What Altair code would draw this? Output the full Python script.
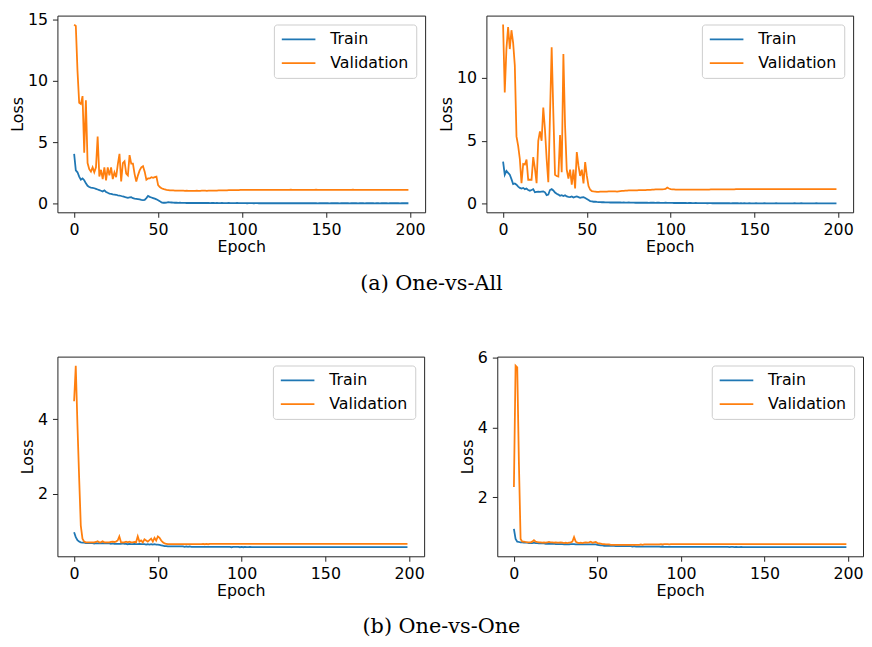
import altair as alt
import pandas as pd

epochs = list(range(200))
series_names = ["Train", "Validation"]
series_colors = ["#1f77b4", "#ff7f0e"]
x_ticks = [0, 50, 100, 150, 200]
captions = ["(a) One-vs-All", "(b) One-vs-One"]

# ---------------- One-vs-All, left panel ----------------
ova1_train = [
    4.05, 2.7, 2.55, 2.2, 1.95, 2.05, 1.9, 1.65, 1.45, 1.35,
    1.3, 1.28, 1.25, 1.2, 1.15, 1.1, 1.05, 0.98, 1.08, 0.95,
    0.88, 0.82, 0.8, 0.76, 0.74, 0.72, 0.68, 0.66, 0.62, 0.58,
    0.55, 0.5, 0.47, 0.5, 0.52, 0.44, 0.4, 0.38, 0.36, 0.34,
    0.3, 0.28, 0.3, 0.45, 0.62, 0.55, 0.5, 0.45, 0.4, 0.35,
    0.28, 0.2, 0.1, 0.07, 0.07, 0.08, 0.12, 0.1, 0.09, 0.08,
] + [
    0.07, 0.07, 0.06, 0.07, 0.06, 0.06, 0.06, 0.05, 0.06, 0.05, 0.05, 0.06, 0.05, 0.05, 0.05, 0.05, 0.06, 0.05, 0.05, 0.05,
    0.05, 0.04, 0.05, 0.05, 0.04, 0.05, 0.04, 0.04, 0.05, 0.04, 0.04, 0.04, 0.05, 0.04, 0.04, 0.04, 0.04, 0.05, 0.04, 0.04,
    0.04, 0.04, 0.04, 0.03, 0.04, 0.04, 0.04, 0.03, 0.04, 0.04, 0.03, 0.04, 0.03, 0.04, 0.03, 0.03, 0.04, 0.03, 0.03, 0.04,
    0.03, 0.03, 0.03, 0.04, 0.03, 0.03, 0.03, 0.03, 0.04, 0.03, 0.03, 0.03, 0.03, 0.03, 0.03, 0.04, 0.03, 0.03, 0.03, 0.03,
    0.03, 0.03, 0.03, 0.03, 0.03, 0.02, 0.03, 0.03, 0.03, 0.03, 0.03, 0.03, 0.02, 0.03, 0.03, 0.03, 0.03, 0.03, 0.02, 0.03,
    0.03, 0.03, 0.03, 0.03, 0.02, 0.03, 0.03, 0.03, 0.03, 0.02, 0.03, 0.03, 0.03, 0.02, 0.03, 0.03, 0.03, 0.03, 0.03, 0.02,
    0.03, 0.03, 0.02, 0.03, 0.03, 0.03, 0.03, 0.02, 0.03, 0.03, 0.03, 0.04, 0.03, 0.03, 0.02, 0.03, 0.03, 0.03, 0.03, 0.03,
]
ova1_val = [
    14.57, 14.45, 10.8, 8.2, 8.1, 8.75, 4.15, 8.4, 3.3, 2.8,
    2.6, 2.95, 2.55, 2.95, 5.45, 2.2, 2.75, 2.0, 2.95, 1.9,
    2.95, 2.3, 2.95, 2.0, 2.55, 2.15, 3.2, 4.05, 1.8, 3.3,
    3.45, 2.45, 2.3, 3.95, 3.25, 3.25, 2.4, 1.8, 2.3, 2.7,
    2.95, 3.05, 2.6, 1.95, 2.05, 2.05, 2.15, 2.1, 2.15, 2.2,
    1.5, 1.35, 1.25, 1.2, 1.15, 1.12, 1.1, 1.08, 1.07, 1.07,
] + [
    1.06, 1.06, 1.05, 1.05, 1.05, 1.05, 1.04, 1.05, 1.04, 1.04, 1.04, 1.04, 1.04, 1.05, 1.04, 1.04, 1.05, 1.05, 1.05, 1.04,
    1.05, 1.05, 1.06, 1.05, 1.06, 1.06, 1.07, 1.07, 1.07, 1.08, 1.08, 1.08, 1.09, 1.09, 1.09, 1.10, 1.10, 1.10, 1.10, 1.11,
    1.11, 1.11, 1.11, 1.11, 1.12, 1.11, 1.11, 1.12, 1.11, 1.12, 1.12, 1.11, 1.12, 1.12, 1.12, 1.11, 1.12, 1.12, 1.12, 1.12,
    1.12, 1.12, 1.12, 1.11, 1.12, 1.12, 1.12, 1.12, 1.12, 1.13, 1.12, 1.12, 1.12, 1.12, 1.12, 1.12, 1.11, 1.12, 1.12, 1.12,
    1.12, 1.12, 1.12, 1.12, 1.13, 1.12, 1.12, 1.12, 1.12, 1.12, 1.12, 1.12, 1.12, 1.11, 1.12, 1.12, 1.12, 1.12, 1.12, 1.12,
    1.12, 1.12, 1.12, 1.12, 1.12, 1.12, 1.13, 1.12, 1.12, 1.12, 1.12, 1.12, 1.12, 1.12, 1.12, 1.12, 1.12, 1.12, 1.12, 1.12,
    1.12, 1.12, 1.12, 1.12, 1.12, 1.12, 1.12, 1.12, 1.12, 1.12, 1.12, 1.12, 1.12, 1.12, 1.12, 1.12, 1.12, 1.12, 1.12, 1.12,
]

# ---------------- One-vs-All, right panel ----------------
ova2_train = [
    3.35, 2.3, 2.6, 2.45, 2.3, 1.95, 1.55, 1.6, 1.5, 1.35,
    1.25, 1.2, 1.25, 1.15, 1.2, 1.08, 1.03, 1.08, 1.15, 0.9,
    0.93, 0.95, 0.93, 0.95, 0.97, 0.9, 0.68, 0.72, 1.08, 1.15,
    1.05, 0.88, 0.78, 0.72, 0.62, 0.67, 0.6, 0.67, 0.57, 0.54,
    0.52, 0.57, 0.49, 0.54, 0.57, 0.52, 0.46, 0.49, 0.52, 0.44,
    0.36, 0.28, 0.2, 0.18, 0.15, 0.15, 0.13, 0.12, 0.12, 0.11,
] + [
    0.11, 0.10, 0.10, 0.10, 0.09, 0.10, 0.09, 0.09, 0.10, 0.09, 0.09, 0.08, 0.09, 0.08, 0.08, 0.09, 0.08, 0.08, 0.08, 0.07,
    0.08, 0.07, 0.07, 0.08, 0.07, 0.07, 0.07, 0.06, 0.07, 0.07, 0.07, 0.06, 0.07, 0.07, 0.06, 0.06, 0.06, 0.07, 0.06, 0.06,
    0.06, 0.06, 0.05, 0.06, 0.05, 0.05, 0.05, 0.05, 0.05, 0.05, 0.04, 0.05, 0.05, 0.04, 0.04, 0.05, 0.04, 0.04, 0.04, 0.04,
    0.04, 0.04, 0.03, 0.04, 0.04, 0.03, 0.03, 0.04, 0.03, 0.03, 0.03, 0.03, 0.03, 0.03, 0.03, 0.03, 0.02, 0.03, 0.03, 0.03,
    0.03, 0.02, 0.03, 0.02, 0.03, 0.02, 0.02, 0.03, 0.02, 0.02, 0.02, 0.03, 0.02, 0.02, 0.02, 0.02, 0.03, 0.02, 0.02, 0.02,
    0.02, 0.02, 0.02, 0.03, 0.02, 0.02, 0.02, 0.02, 0.02, 0.02, 0.02, 0.02, 0.02, 0.02, 0.03, 0.02, 0.02, 0.02, 0.04, 0.02,
    0.02, 0.02, 0.02, 0.02, 0.02, 0.02, 0.02, 0.03, 0.02, 0.02, 0.02, 0.02, 0.02, 0.02, 0.02, 0.02, 0.02, 0.02, 0.02, 0.02,
]
ova2_val = [
    14.25, 8.84, 12.3, 14.05, 12.3, 13.8, 12.8, 11.0, 5.35, 4.6,
    3.55, 1.62, 3.15, 3.1, 3.5, 1.9, 1.9, 1.9, 3.7, 2.8,
    1.62, 5.0, 5.75, 5.0, 7.65, 5.9, 3.55, 1.7, 7.0, 12.45,
    7.2, 2.3, 2.2, 2.15, 5.45, 2.5, 11.9, 6.2, 2.7, 2.0,
    2.7, 1.5, 2.7, 1.2, 4.1, 3.0, 2.2, 2.7, 1.6, 3.3,
    2.2, 1.4, 1.1, 1.0, 0.97, 0.95, 0.93, 0.93, 0.95, 0.95,
] + [
    0.95, 0.96, 0.96, 0.97, 0.97, 0.98, 0.97, 0.97, 0.96, 0.98, 1.00, 1.01, 1.02, 1.03, 1.04, 1.05, 1.05, 1.06, 1.06, 1.06,
    1.06, 1.07, 1.07, 1.07, 1.08, 1.08, 1.09, 1.10, 1.10, 1.11, 1.12, 1.13, 1.13, 1.14, 1.13, 1.14, 1.15, 1.17, 1.28, 1.20,
    1.16, 1.14, 1.13, 1.12, 1.12, 1.11, 1.11, 1.11, 1.11, 1.11, 1.11, 1.11, 1.11, 1.11, 1.11, 1.11, 1.11, 1.12, 1.12, 1.12,
    1.12, 1.12, 1.12, 1.12, 1.13, 1.13, 1.13, 1.13, 1.13, 1.14, 1.14, 1.14, 1.14, 1.14, 1.14, 1.14, 1.14, 1.14, 1.14, 1.15,
    1.15, 1.15, 1.15, 1.15, 1.15, 1.15, 1.15, 1.15, 1.15, 1.15, 1.15, 1.15, 1.15, 1.15, 1.15, 1.15, 1.15, 1.15, 1.15, 1.15,
    1.15, 1.15, 1.15, 1.15, 1.15, 1.15, 1.15, 1.15, 1.15, 1.15, 1.15, 1.15, 1.15, 1.15, 1.15, 1.15, 1.15, 1.15, 1.15, 1.15,
    1.15, 1.15, 1.15, 1.15, 1.15, 1.15, 1.15, 1.15, 1.15, 1.15, 1.15, 1.15, 1.15, 1.15, 1.15, 1.15, 1.15, 1.15, 1.15, 1.15,
]

# ---------------- One-vs-One, left panel ----------------
ovo1_train = [
    0.97, 0.84, 0.76, 0.72, 0.70, 0.69, 0.69, 0.68, 0.68, 0.68,
    0.68, 0.68, 0.67, 0.68, 0.67, 0.67, 0.67, 0.68, 0.67, 0.67,
    0.67, 0.67, 0.66, 0.67, 0.66, 0.66, 0.66, 0.66, 0.66, 0.67,
    0.66, 0.66, 0.65, 0.66, 0.65, 0.65, 0.66, 0.65, 0.65, 0.66,
    0.65, 0.65, 0.65, 0.64, 0.65, 0.64, 0.65, 0.64, 0.65, 0.64,
    0.64, 0.63, 0.62, 0.61, 0.60, 0.60, 0.59, 0.59, 0.59, 0.59,
] + [
    0.59, 0.59, 0.59, 0.59, 0.59, 0.59, 0.58, 0.59, 0.58, 0.59, 0.58, 0.58, 0.58, 0.58, 0.58, 0.58, 0.58, 0.58, 0.58, 0.58,
    0.58, 0.58, 0.58, 0.58, 0.58, 0.58, 0.58, 0.58, 0.58, 0.58, 0.58, 0.58, 0.58, 0.58, 0.57, 0.58, 0.58, 0.58, 0.58, 0.57,
    0.58, 0.57, 0.58, 0.57, 0.57, 0.58, 0.57, 0.57, 0.57, 0.57, 0.57, 0.57, 0.57, 0.57, 0.57, 0.57, 0.57, 0.57, 0.57, 0.57,
    0.57, 0.57, 0.57, 0.57, 0.57, 0.57, 0.57, 0.57, 0.57, 0.57, 0.57, 0.57, 0.57, 0.57, 0.57, 0.57, 0.57, 0.57, 0.57, 0.57,
    0.57, 0.57, 0.57, 0.57, 0.57, 0.57, 0.57, 0.57, 0.57, 0.57, 0.57, 0.57, 0.57, 0.57, 0.57, 0.57, 0.57, 0.57, 0.57, 0.57,
    0.57, 0.57, 0.57, 0.57, 0.57, 0.57, 0.57, 0.57, 0.57, 0.57, 0.57, 0.57, 0.57, 0.57, 0.57, 0.57, 0.57, 0.57, 0.57, 0.57,
    0.57, 0.57, 0.57, 0.57, 0.57, 0.57, 0.57, 0.57, 0.57, 0.57, 0.57, 0.57, 0.57, 0.57, 0.57, 0.57, 0.57, 0.57, 0.57, 0.57,
]
ovo1_val = [
    4.48, 5.43, 3.85, 2.45, 1.15, 0.80, 0.72, 0.70, 0.70, 0.70,
    0.70, 0.70, 0.70, 0.71, 0.73, 0.70, 0.70, 0.73, 0.70, 0.70,
    0.70, 0.70, 0.71, 0.72, 0.71, 0.72, 0.75, 0.86, 0.70, 0.70,
    0.70, 0.72, 0.70, 0.72, 0.70, 0.70, 0.71, 0.70, 0.86, 0.72,
    0.75, 0.70, 0.78, 0.75, 0.72, 0.76, 0.80, 0.72, 0.82, 0.75,
    0.86, 0.82, 0.75, 0.70, 0.67, 0.66, 0.65, 0.65, 0.65, 0.65,
] + [
    0.65, 0.65, 0.65, 0.65, 0.65, 0.65, 0.65, 0.65, 0.65, 0.65, 0.65, 0.65, 0.65, 0.65, 0.65, 0.65, 0.65, 0.66, 0.65, 0.66,
    0.65, 0.66, 0.66, 0.66, 0.66, 0.66, 0.66, 0.66, 0.66, 0.66, 0.66, 0.66, 0.66, 0.66, 0.66, 0.66, 0.66, 0.66, 0.66, 0.66,
    0.66, 0.66, 0.66, 0.66, 0.66, 0.66, 0.66, 0.66, 0.66, 0.66, 0.66, 0.66, 0.66, 0.66, 0.66, 0.66, 0.66, 0.66, 0.66, 0.66,
    0.66, 0.66, 0.66, 0.66, 0.66, 0.66, 0.66, 0.66, 0.66, 0.66, 0.66, 0.66, 0.66, 0.66, 0.66, 0.66, 0.66, 0.66, 0.66, 0.66,
    0.66, 0.66, 0.66, 0.66, 0.66, 0.66, 0.66, 0.66, 0.66, 0.66, 0.66, 0.66, 0.66, 0.66, 0.66, 0.66, 0.66, 0.66, 0.66, 0.66,
    0.66, 0.66, 0.66, 0.66, 0.66, 0.66, 0.66, 0.66, 0.66, 0.66, 0.66, 0.66, 0.66, 0.66, 0.66, 0.66, 0.66, 0.66, 0.66, 0.66,
    0.66, 0.66, 0.66, 0.66, 0.66, 0.66, 0.66, 0.66, 0.66, 0.66, 0.66, 0.66, 0.66, 0.66, 0.66, 0.66, 0.66, 0.66, 0.66, 0.66,
]

# ---------------- One-vs-One, right panel ----------------
ovo2_train = [
    1.09, 0.80, 0.72, 0.71, 0.70, 0.70, 0.69, 0.69, 0.69, 0.68,
    0.68, 0.68, 0.69, 0.68, 0.68, 0.67, 0.67, 0.67, 0.67, 0.66,
    0.66, 0.66, 0.66, 0.66, 0.66, 0.65, 0.65, 0.65, 0.65, 0.65,
    0.64, 0.65, 0.64, 0.64, 0.65, 0.65, 0.65, 0.64, 0.64, 0.64,
    0.64, 0.64, 0.64, 0.64, 0.64, 0.64, 0.64, 0.64, 0.64, 0.64,
    0.63, 0.62, 0.61, 0.61, 0.60, 0.60, 0.60, 0.60, 0.60, 0.60,
] + [
    0.60, 0.59, 0.59, 0.59, 0.59, 0.59, 0.59, 0.59, 0.59, 0.59, 0.59, 0.58, 0.59, 0.58, 0.58, 0.58, 0.58, 0.58, 0.58, 0.58,
    0.58, 0.58, 0.58, 0.58, 0.58, 0.58, 0.58, 0.58, 0.57, 0.58, 0.57, 0.57, 0.57, 0.57, 0.57, 0.57, 0.57, 0.57, 0.57, 0.57,
    0.57, 0.57, 0.57, 0.57, 0.57, 0.57, 0.57, 0.57, 0.57, 0.57, 0.57, 0.57, 0.57, 0.57, 0.57, 0.57, 0.57, 0.57, 0.57, 0.57,
    0.57, 0.57, 0.57, 0.57, 0.57, 0.57, 0.57, 0.57, 0.57, 0.56, 0.57, 0.57, 0.56, 0.57, 0.56, 0.56, 0.57, 0.56, 0.56, 0.56,
    0.56, 0.56, 0.56, 0.56, 0.56, 0.56, 0.56, 0.56, 0.56, 0.56, 0.56, 0.56, 0.56, 0.56, 0.56, 0.56, 0.56, 0.56, 0.56, 0.56,
    0.56, 0.56, 0.56, 0.56, 0.56, 0.56, 0.56, 0.56, 0.56, 0.56, 0.56, 0.56, 0.56, 0.56, 0.56, 0.56, 0.56, 0.56, 0.56, 0.56,
    0.56, 0.56, 0.56, 0.56, 0.56, 0.56, 0.56, 0.56, 0.56, 0.56, 0.56, 0.56, 0.56, 0.56, 0.56, 0.56, 0.56, 0.56, 0.56, 0.56,
]
ovo2_val = [
    2.29, 5.78, 5.73, 2.97, 0.80, 0.72, 0.72, 0.71, 0.70, 0.70,
    0.70, 0.72, 0.76, 0.72, 0.71, 0.70, 0.70, 0.69, 0.70, 0.69,
    0.70, 0.71, 0.70, 0.70, 0.69, 0.70, 0.69, 0.69, 0.70, 0.69,
    0.68, 0.69, 0.68, 0.69, 0.70, 0.72, 0.85, 0.72, 0.69, 0.68,
    0.69, 0.68, 0.69, 0.70, 0.69, 0.70, 0.72, 0.69, 0.70, 0.71,
    0.68, 0.67, 0.66, 0.65, 0.65, 0.64, 0.64, 0.64, 0.63, 0.63,
] + [
    0.63, 0.63, 0.63, 0.63, 0.63, 0.63, 0.63, 0.63, 0.63, 0.63, 0.63, 0.63, 0.63, 0.63, 0.63, 0.63, 0.64, 0.63, 0.64, 0.64,
    0.64, 0.64, 0.64, 0.64, 0.64, 0.64, 0.64, 0.64, 0.65, 0.64, 0.65, 0.65, 0.65, 0.64, 0.65, 0.65, 0.65, 0.65, 0.65, 0.65,
    0.65, 0.65, 0.65, 0.65, 0.65, 0.65, 0.65, 0.65, 0.65, 0.65, 0.65, 0.65, 0.65, 0.65, 0.65, 0.65, 0.65, 0.65, 0.65, 0.65,
    0.65, 0.65, 0.65, 0.65, 0.65, 0.65, 0.65, 0.65, 0.65, 0.65, 0.65, 0.65, 0.65, 0.65, 0.65, 0.65, 0.65, 0.65, 0.65, 0.65,
    0.65, 0.65, 0.65, 0.65, 0.65, 0.65, 0.65, 0.65, 0.65, 0.65, 0.65, 0.65, 0.65, 0.65, 0.65, 0.65, 0.65, 0.65, 0.65, 0.65,
    0.65, 0.65, 0.65, 0.65, 0.65, 0.65, 0.65, 0.65, 0.65, 0.65, 0.65, 0.65, 0.65, 0.65, 0.65, 0.65, 0.65, 0.65, 0.65, 0.65,
    0.65, 0.65, 0.65, 0.65, 0.65, 0.65, 0.65, 0.65, 0.65, 0.65, 0.65, 0.65, 0.65, 0.65, 0.65, 0.65, 0.65, 0.65, 0.65, 0.65,
]

FONT = "DejaVu Sans"
LINE_W = 1.8


def panel(train, val, yticks, width, height):
    df = pd.DataFrame({
        "Epoch": epochs + epochs,
        "Loss": train + val,
        "Series": [series_names[0]] * len(train) + [series_names[1]] * len(val),
    })
    lo, hi = min(train + val), max(train + val)
    pad = 0.05 * (hi - lo)
    xpad = 0.05 * (epochs[-1] - epochs[0])
    return alt.Chart(df).mark_line(strokeWidth=LINE_W, clip=True).encode(
        x=alt.X("Epoch:Q",
                scale=alt.Scale(domain=[epochs[0] - xpad, epochs[-1] + xpad], nice=False, zero=False),
                axis=alt.Axis(values=x_ticks, title="Epoch", format="d")),
        y=alt.Y("Loss:Q",
                scale=alt.Scale(domain=[lo - pad, hi + pad], nice=False, zero=False),
                axis=alt.Axis(values=yticks, title="Loss", format="d")),
        color=alt.Color("Series:N",
                        scale=alt.Scale(domain=series_names, range=series_colors),
                        legend=alt.Legend(title=None, orient="top-right", offset=9,
                                          symbolType="stroke", symbolSize=1156,
                                          symbolStrokeWidth=LINE_W, clipHeight=16,
                                          labelFont=FONT, labelFontSize=16, labelColor="black",
                                          labelOffset=14, rowPadding=8, padding=7,
                                          strokeColor="#cccccc", fillColor="rgba(255,255,255,0.8)",
                                          cornerRadius=3)),
    ).properties(width=width, height=height)


p1 = panel(ova1_train, ova1_val, [0, 5, 10, 15], 372, 199)
p2 = panel(ova2_train, ova2_val, [0, 5, 10], 371, 199)
p3 = panel(ovo1_train, ovo1_val, [2, 4], 371, 202)
p4 = panel(ovo2_train, ovo2_val, [2, 4, 6], 370, 202)

row1 = alt.hconcat(p1, p2, spacing=62, bounds="flush",
                   title=alt.Title(captions[0], orient="bottom", anchor="middle", offset=18)
                   ).resolve_scale(color="independent").resolve_legend(color="independent")
row2 = alt.hconcat(p3, p4, spacing=74, bounds="flush",
                   title=alt.Title(captions[1], orient="bottom", anchor="middle", offset=17)
                   ).resolve_scale(color="independent").resolve_legend(color="independent")

chart = alt.vconcat(row1, row2, spacing=55).properties(
    padding={"left": 1, "top": -1, "right": 0, "bottom": 0}
).configure_view(
    stroke="#222222", strokeWidth=1
).configure_axis(
    grid=False, domain=False, ticks=True, tickSize=5, tickColor="#222222", tickWidth=1,
    labelFont=FONT, labelFontSize=16, labelColor="black",
    titleFont=FONT, titleFontSize=16, titleFontWeight="normal", titleColor="black",
).configure_axisX(labelPadding=4, titlePadding=2).configure_axisY(
    labelPadding=5, titlePadding=2
).configure_title(
    font="DejaVu Serif", fontSize=21, fontWeight="normal", color="black"
)

chart.save("out.html", embed_options={"renderer": "svg", "actions": False})
